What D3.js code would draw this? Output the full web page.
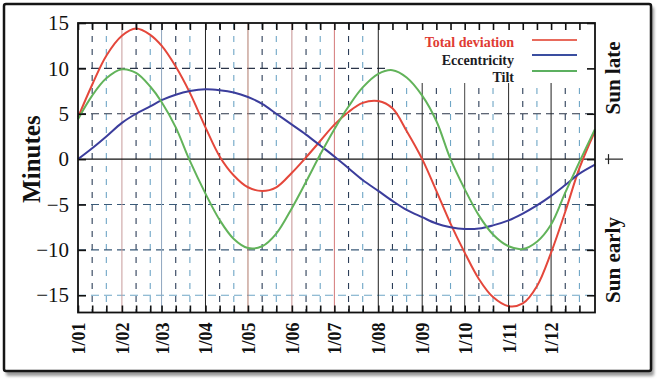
<!DOCTYPE html>
<html><head><meta charset="utf-8">
<script src="https://cdn.jsdelivr.net/npm/d3@7"></script>
<style>
html,body{margin:0;padding:0;background:#fff;}
svg{display:block;}
text{font-family:"Liberation Serif","Times New Roman",serif;}
</style>
</head><body>
<svg id="c" width="657" height="381"></svg>
<script>
const monthLabels = ["1/01","1/02","1/03","1/04","1/05","1/06","1/07","1/08","1/09","1/10","1/11","1/12"];
const monthStartDays = [0,31,59,90,120,151,181,212,243,273,304,334];
const sampleDays = [0,10,20,31,41,51,59,69,79,90,100,110,120,130,140,151,161,171,181,191,201,212,222,232,243,253,263,273,283,293,304,314,324,334,344,354,365];
const totalDeviation = [4.6,8.2,11.4,13.6,14.4,13.7,12.5,10.2,7.3,3.5,0.3,-1.8,-3.1,-3.5,-3.1,-1.5,0.2,2.0,3.8,5.2,6.2,6.4,5.6,3.1,0.0,-3.5,-7.1,-10.3,-13.2,-15.2,-16.2,-15.9,-14.0,-10.3,-5.8,-1.0,3.1];
const eccentricity = [0.0,1.2,2.5,4.0,5.0,5.8,6.5,7.1,7.5,7.7,7.6,7.35,6.85,6.1,5.0,3.8,2.7,1.5,0.3,-1.0,-2.3,-3.5,-4.6,-5.6,-6.4,-7.1,-7.5,-7.7,-7.65,-7.3,-6.75,-6.0,-5.1,-4.05,-2.85,-1.6,-0.6];
const tilt = [4.4,7.0,8.9,9.9,9.5,8.0,6.3,3.5,-0.2,-3.8,-6.7,-8.8,-9.8,-9.6,-8.2,-5.4,-2.5,0.5,3.3,5.8,7.9,9.4,9.8,9.0,7.0,4.2,0.0,-3.3,-6.2,-8.3,-9.6,-9.9,-9.1,-7.2,-3.7,-0.3,3.3];
const yTickValues = [-15,-10,-5,0,5,10,15];
const gridValues = [-15,-10,-5,5,10];
const seriesNames = ["Total deviation","Eccentricity","Tilt"];
const yearDays = 365;

const FONT = '"Liberation Serif","Times New Roman",serif';
const svg = d3.select("#c");
const L = 78, R = 595, T = 23, B = 312.5;
const x = d3.scaleLinear().domain([0, yearDays]).range([L, R]);
const y = d3.scaleLinear().domain([-16.9, 15]).range([B, T]);

// frame with shadow
const defs = svg.append("defs");
defs.append("filter").attr("id","sh").append("feGaussianBlur").attr("stdDeviation",1.5);
svg.append("rect").attr("x",6).attr("y",7).attr("width",648).attr("height",369).attr("rx",2)
  .attr("fill","#9a9a9a").attr("filter","url(#sh)");
svg.append("rect").attr("x",4).attr("y",4).attr("width",647).attr("height",367).attr("rx",2)
  .attr("fill","#fff").attr("stroke","#151515").attr("stroke-width",2.5);

const minorDays = monthStartDays.flatMap(d => [d + 10, d + 20]);

// dashed vertical grid
svg.append("g").selectAll("line").data(minorDays).join("line")
  .attr("x1", d => x(d)).attr("x2", d => x(d)).attr("y1", T).attr("y2", B)
  .attr("stroke", (d, i) => i % 2 ? "#6fa6c6" : "#2c3e58")
  .attr("stroke-width", 1.1).attr("stroke-dasharray", "6,7");

// dashed horizontal grid
svg.append("g").selectAll("line").data(gridValues).join("line")
  .attr("x1", L).attr("x2", R).attr("y1", d => y(d)).attr("y2", d => y(d))
  .attr("stroke", d => d === -15 ? "#6fa6c6" : (d < 0 ? "#3a5a78" : "#2a3448"))
  .attr("stroke-width", 1.1).attr("stroke-dasharray", "8,5");

// solid month lines
const monthColors = ["#000","#c79a9a","#8ea6bf","#222","#b07a6a","#c59090","#d47878","#1e1e1e","#2a2a2a","#444","#2a2a2a","#1e1e1e"];
svg.append("g").selectAll("line").data(monthStartDays.slice(1)).join("line")
  .attr("x1", d => x(d)).attr("x2", d => x(d)).attr("y1", T).attr("y2", B)
  .attr("stroke", (d, i) => monthColors[i + 1]).attr("stroke-width", 1);

// zero line
svg.append("line").attr("x1", L).attr("x2", R).attr("y1", y(0)).attr("y2", y(0))
  .attr("stroke", "#111").attr("stroke-width", 1.1);

// legend box
svg.append("rect").attr("x", 386).attr("y", T + 1).attr("width", R - 387).attr("height", 59).attr("fill", "#fff");

// curves
const series = [
  {name: seriesNames[0], values: totalDeviation, color: "#e4473b"},
  {name: seriesNames[1], values: eccentricity, color: "#3b3d9c"},
  {name: seriesNames[2], values: tilt, color: "#62b35a"}
];
const line = d3.line().x((d, i) => x(sampleDays[i])).y(d => y(d)).curve(d3.curveCatmullRom.alpha(0.5));
svg.append("g").selectAll("path").data(series).join("path")
  .attr("d", s => line(s.values)).attr("fill", "none")
  .attr("stroke", s => s.color).attr("stroke-width", 2);

// plot border
svg.append("rect").attr("x", L).attr("y", T).attr("width", R - L).attr("height", B - T)
  .attr("fill", "none").attr("stroke", "#111").attr("stroke-width", 1.8);

// axes
const allTickDays = monthStartDays.concat(minorDays).sort((a, b) => a - b);
const yl = svg.append("g").attr("transform", `translate(${L},0)`)
  .call(d3.axisLeft(y).tickValues(yTickValues).tickSize(-8).tickSizeOuter(0).tickPadding(9));
const yr = svg.append("g").attr("transform", `translate(${R},0)`)
  .call(d3.axisRight(y).tickValues(yTickValues).tickSize(-8).tickSizeOuter(0).tickFormat(""));
const xb = svg.append("g").attr("transform", `translate(0,${B})`)
  .call(d3.axisBottom(x).tickValues(allTickDays).tickSize(-7).tickSizeOuter(0).tickFormat(""));
const xt = svg.append("g").attr("transform", `translate(0,${T})`)
  .call(d3.axisTop(x).tickValues(allTickDays).tickSize(-7).tickSizeOuter(0).tickFormat(""));
[yl, yr, xb, xt].forEach(g => {
  g.attr("font-family", FONT);
  g.select(".domain").remove();
  g.selectAll(".tick line").attr("stroke", "#111").attr("stroke-width", 1.6);
});
yl.attr("font-size", 21);
yl.selectAll(".tick text").style("font-family", FONT).style("font-size", "21px").attr("fill", "#111");

// x labels (rotated)
svg.append("g").selectAll("text").data(monthLabels).join("text")
  .attr("transform", (d, i) => `translate(${x(monthStartDays[i]) + 7},${B + 10}) rotate(-90)`)
  .attr("text-anchor", "end").attr("font-weight", "bold").attr("font-size", 18).attr("fill", "#111")
  .style("font-family", FONT)
  .text(d => d);

// y axis title
svg.append("text").attr("transform", `translate(40,${y(0)}) rotate(-90)`)
  .attr("text-anchor", "middle").attr("font-weight", "bold").attr("font-size", 25).attr("fill", "#111")
  .style("font-family", FONT)
  .text("Minutes");

// right side labels
svg.append("text").attr("transform", "translate(620,78) rotate(-90)")
  .attr("text-anchor", "middle").attr("font-weight", "bold").attr("font-size", 21).attr("fill", "#111")
  .style("font-family", FONT)
  .text("Sun late");
svg.append("text").attr("transform", "translate(620,260) rotate(-90)")
  .attr("text-anchor", "middle").attr("font-weight", "bold").attr("font-size", 21).attr("fill", "#111")
  .style("font-family", FONT)
  .text("Sun early");
svg.append("line").attr("x1", 605).attr("x2", 623).attr("y1", y(0)).attr("y2", y(0)).attr("stroke", "#222").attr("stroke-width", 1.2);
svg.append("line").attr("x1", 608.5).attr("x2", 608.5).attr("y1", y(0) - 5).attr("y2", y(0) + 5).attr("stroke", "#222").attr("stroke-width", 1.2);

// legend
const legendY = [47, 65, 82];
const legendLineY = [40, 55, 71];
const legendTextColors = ["#e03c34", "#1c1c24", "#1c1c24"];
const legendLineColors = ["#e86a5c", "#3a4ea0", "#5cb060"];
const lg = svg.append("g");
lg.selectAll("text").data(series).join("text")
  .attr("x", 514).attr("y", (d, i) => legendY[i]).attr("text-anchor", "end")
  .attr("font-weight", "bold").attr("font-size", 14).attr("fill", (d, i) => legendTextColors[i])
  .style("font-family", FONT)
  .text(d => d.name);
lg.selectAll("line").data(series).join("line")
  .attr("x1", 532).attr("x2", 577).attr("y1", (d, i) => legendLineY[i]).attr("y2", (d, i) => legendLineY[i])
  .attr("stroke", (d, i) => legendLineColors[i]).attr("stroke-width", 2);
</script>
</body></html>
